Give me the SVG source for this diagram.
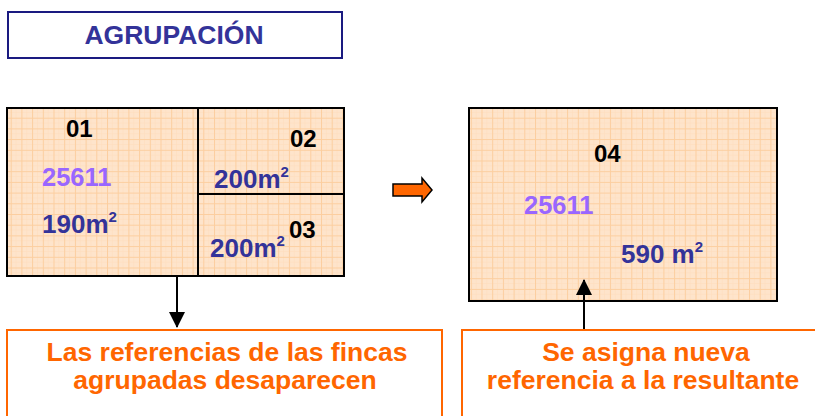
<svg xmlns="http://www.w3.org/2000/svg" width="815" height="416" viewBox="0 0 815 416">
<style>
text{font-family:"Liberation Sans",Arial,sans-serif;font-weight:bold}
.parcel{fill:url(#grid);stroke:#000;stroke-width:2}
.num{fill:#000;font-size:24px}
.ref{fill:#9966ff;font-size:25.5px}
.area{fill:#333399;font-size:26px}
.sup{font-size:15px}
.note{fill:#fff;stroke:#ff6600;stroke-width:2}
.notetxt{fill:#ff6600;font-size:26.5px;text-anchor:middle}
.conn{stroke:#000;stroke-width:2;fill:none}
</style>
<defs>
<pattern id="grid" patternUnits="userSpaceOnUse" width="10.7" height="10.7">
<rect width="10.7" height="10.7" fill="#fee4cb"/>
<path d="M5.35 0V10.7M0 5.35H10.7" stroke="#fddcbd" stroke-width="0.6"/>
<path d="M0 0.5H10.7M0.5 0V10.7" stroke="#fcce9f" stroke-width="1"/>
</pattern>
<marker id="ah" markerWidth="16" markerHeight="16" viewBox="0 0 16 16" refX="15" refY="8" orient="auto" markerUnits="userSpaceOnUse">
<path d="M0 0L16 8L0 16Z" fill="#000"/>
</marker>
</defs>
<rect width="815" height="416" fill="#fff"/>

<g id="title">
<rect x="8" y="12" width="334" height="46" fill="#fff" stroke="#1a1a80" stroke-width="2"/>
<text x="174" y="44" fill="#333399" font-size="26.5" text-anchor="middle">AGRUPACIÓN</text>
</g>

<g id="parcel-01">
<rect class="parcel" x="7" y="108" width="191" height="168"/>
<text class="num" x="66" y="137" font-size="22">01</text>
<text class="ref" x="42" y="186">25611</text>
<text class="area" x="42" y="233">190m<tspan class="sup" dy="-11">2</tspan></text>
</g>

<g id="parcel-02">
<rect class="parcel" x="198" y="108" width="146" height="86"/>
<text class="num" x="290" y="147">02</text>
<text class="area" x="214" y="188">200m<tspan class="sup" dy="-11">2</tspan></text>
</g>

<g id="parcel-03">
<rect class="parcel" x="198" y="194" width="146" height="82"/>
<text class="area" x="210" y="257">200m<tspan class="sup" dy="-11">2</tspan></text>
<text class="num" x="289" y="238">03</text>
</g>

<g id="transform-arrow">
<polygon points="393,184 422,184 422,178 432,190 422,202 422,196 393,196" fill="#ff6600" stroke="#000" stroke-width="1.5" stroke-linejoin="miter"/>
</g>

<g id="parcel-04">
<rect class="parcel" x="469" y="108" width="308" height="193"/>
<text class="num" x="594" y="162">04</text>
<text class="ref" x="524" y="214">25611</text>
<text class="area" x="621" y="263">590 m<tspan class="sup" dy="-11">2</tspan></text>
</g>

<g id="note-left">
<rect class="note" x="7" y="330" width="435" height="100"/>
<text class="notetxt" x="227" y="361">Las referencias de las fincas</text>
<text class="notetxt" x="225" y="389">agrupadas desaparecen</text>
</g>

<g id="note-right">
<rect class="note" x="462" y="330" width="370" height="100"/>
<text class="notetxt" x="646" y="361">Se asigna nueva</text>
<text class="notetxt" x="643" y="389">referencia a la resultante</text>
</g>

<g id="connectors">
<line class="conn" x1="177" y1="277" x2="177" y2="327" marker-end="url(#ah)"/>
<line class="conn" x1="584" y1="329" x2="584" y2="280" marker-end="url(#ah)"/>
</g>
</svg>
